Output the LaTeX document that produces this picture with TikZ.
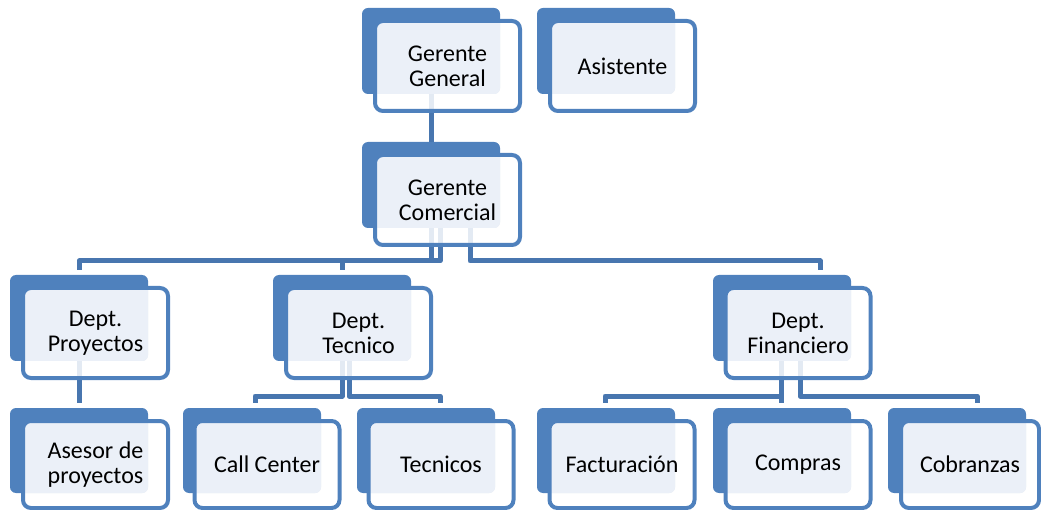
\documentclass[tikz,border=0pt]{standalone}
\usepackage{fontspec}
\setmainfont{Carlito}
\usetikzlibrary{calc}
\definecolor{boxblue}{HTML}{4F81BD}
\definecolor{lineblue}{HTML}{4876AF}
\definecolor{lightfill}{HTML}{EBF0F8}
\pgfdeclarelayer{bg}
\pgfsetlayers{bg,main}
\tikzset{
  backbox/.style={fill=boxblue, draw=none, rounded corners=6pt, minimum width=138pt, minimum height=86pt, inner sep=0pt, outer sep=0pt},
  frontbox/.style={fill=white, fill opacity=0.85, text opacity=1, draw=boxblue, line width=4pt,
    rounded corners=8pt, minimum width=145pt, minimum height=90pt, inner sep=0pt, outer sep=0pt,
    align=center, text=black, font=\fontsize{24}{25}\selectfont,
    path picture={\fill[lightfill, fill opacity=1, rounded corners=6pt] (#1.north west) rectangle (#1.south east);}},
  conn/.style={draw=lineblue, line width=5pt, line join=round}
}
\begin{document}
\begin{tikzpicture}[x=1pt,y=-1pt]
\useasboundingbox (0,0) rectangle (1041,510);

% top row
\node[backbox] (gg-b) at (431,51) {};
\node[frontbox=gg-b] (gg) at (447.5,66) {Gerente\\General};
\node[backbox] (asi-b) at (606,51) {};
\node[frontbox=asi-b] (asi) at (622.5,66) {Asistente};

% second row
\node[backbox] (gc-b) at (431,185) {};
\node[frontbox=gc-b] (gc) at (447.5,200) {Gerente\\Comercial};

% third row
\node[backbox] (proy-b) at (79,318) {};
\node[frontbox=proy-b] (proy) at (95.5,333) {Dept.\\Proyectos};
\node[backbox] (tec-b) at (342,318) {};
\node[frontbox=tec-b] (tec) at (358.5,333) {Dept.\\Tecnico};
\node[backbox] (fin-b) at (782,318) {};
\node[frontbox=fin-b] (fin) at (798,333) {Dept.\\Financiero};

% bottom row
\tikzset{lowback/.style={backbox, minimum height=85pt}, lowfront/.style={frontbox=#1, minimum height=87pt}}
\node[lowback] (ase-b) at (79,450.5) {};
\node[lowfront=ase-b] (ase) at (95.5,464.5) {Asesor de\\proyectos};
\node[lowback] (call-b) at (252,450.5) {};
\node[lowfront=call-b] (call) at (267,464.5) {Call Center};
\node[lowback] (tcs-b) at (426,450.5) {};
\node[lowfront=tcs-b] (tcs) at (441,464.5) {Tecnicos};
\node[lowback] (fac-b) at (606,450.5) {};
\node[lowfront=fac-b] (fac) at (622,464.5) {Facturación};
\node[lowback] (com-b) at (782,450.5) {};
\node[lowfront=com-b] (com) at (798,464.5) {Compras};
\node[lowback] (cob-b) at (957,450.5) {};
\node[lowfront=cob-b, minimum width=138pt] (cob) at (970,464.5) {Cobranzas};

% connectors
\coordinate (gcB) at (440,228);
\coordinate (gcC) at (470,228);
\coordinate (proy-top) at (79,270);
\coordinate (tec-top) at (342,270);
\coordinate (fin-top) at (820,270);
\coordinate (ase-top) at (79,403);
\coordinate (tecA) at (342,360);
\coordinate (tecB) at (349,360);
\coordinate (call-top) at (255,403);
\coordinate (tcs-top) at (440,403);
\coordinate (finA) at (781,360);
\coordinate (finB) at (800,360);
\coordinate (fac-top) at (605,403);
\coordinate (com-top) at (781,403);
\coordinate (cob-top) at (977,403);

\begin{pgfonlayer}{bg}
\draw[conn] (gg-b.center) -- (gc-b.north);
\draw[conn] (gc-b.center) |- ($(proy-top)+(0,-9)$) -- (proy-top);
\draw[conn] (gcB) |- ($(tec-top)+(0,-9)$) -- (tec-top);
\draw[conn] (gcC) |- ($(fin-top)+(0,-9)$) -- (fin-top);
\draw[conn] (proy-b.center) -- (ase-top);
\draw[conn] (tecA) |- ($(call-top)+(0,-7)$) -- (call-top);
\draw[conn] (tecB) |- ($(tcs-top)+(0,-7)$) -- (tcs-top);
\draw[conn] (finA) |- ($(fac-top)+(0,-7)$) -- (fac-top);
\draw[conn] (finA) -- (com-top);
\draw[conn] (finB) |- ($(cob-top)+(0,-7)$) -- (cob-top);
\end{pgfonlayer}
\end{tikzpicture}
\end{document}
